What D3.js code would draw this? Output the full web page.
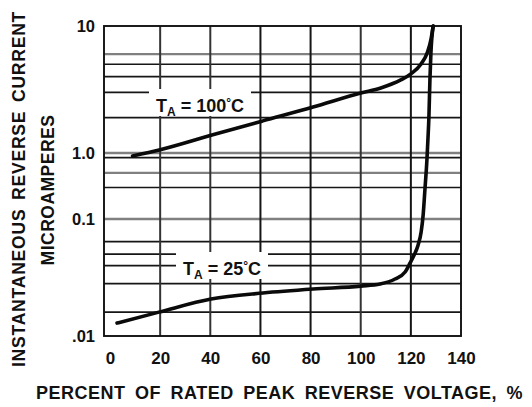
<!DOCTYPE html>
<html>
<head>
<meta charset="utf-8">
<script src="https://cdn.jsdelivr.net/npm/d3@7"></script>
<style>
  html, body { margin: 0; padding: 0; background: #fff; }
  svg { display: block; }
  text { font-family: "Liberation Sans", Arial, sans-serif; fill: #111; }
</style>
</head>
<body>
<svg id="chart" width="532" height="407"></svg>
<script>
// ---------- data ----------
const xTickValues = [0, 20, 40, 60, 80, 100, 120, 140];
const yTickValues = [0.01, 0.1, 1, 10];
const yTickLabels = [".01", "0.1", "1.0", "10"];
const xGridValues = [20, 40, 60, 80, 100, 120];
const yGridValues = [0.016, 0.028, 0.04, 0.05, 0.064, 0.1, 0.3, 0.5, 0.85, 1, 1.9, 3, 4, 5, 6];
const yGridGray = [6, 1, 0.5, 0.1];

const volt100 = [9, 20, 41, 61, 81, 100, 108, 116, 120, 124, 126.6, 128, 128.9];
const cur100  = [0.9, 1.06, 1.39, 1.79, 2.3, 2.97, 3.25, 3.76, 4.2, 5.0, 6.2, 7.8, 10];

const volt25 = [2.8, 19.5, 40.3, 61, 81, 100, 107.7, 113.7, 117.7, 119.7, 121.3, 122.9, 124.1, 124.9, 125.6, 126.4, 126.8, 127.2, 127.6, 128, 128.9];
const cur25  = [0.0129, 0.016, 0.0207, 0.0233, 0.0252, 0.0267, 0.0278, 0.0307, 0.0352, 0.0421, 0.0492, 0.060, 0.0774, 0.115, 0.275, 0.78, 1.27, 1.92, 3.76, 6.12, 10];

const xDomain = [-2.4, 140];
const yDomain = [0.01, 0.1, 1, 10];

const xTitle = "PERCENT OF RATED PEAK REVERSE VOLTAGE, %";
const yTitle1 = "INSTANTANEOUS REVERSE CURRENT";
const yTitle2 = "MICROAMPERES";

// ---------- scales ----------
const svg = d3.select("#chart");
const x = d3.scaleLinear().domain(xDomain).range([104, 461]);
const y = d3.scaleLog().domain(yDomain).range([336, 219, 153, 26]);

const x0 = x(xDomain[0]), x1 = x(xDomain[1]);
const yTop = y(yDomain[yDomain.length - 1]), yBot = y(yDomain[0]);

// ---------- grid ----------
const g = svg.append("g");
g.selectAll("line.hg").data(yGridValues).enter().append("line")
  .attr("x1", x0).attr("x2", x1)
  .attr("y1", d => y(d)).attr("y2", d => y(d))
  .attr("stroke", d => yGridGray.includes(d) ? "#808080" : "#161616")
  .attr("stroke-width", d => yGridGray.includes(d) ? 2.3 : 1.7);

g.selectAll("line.vg").data(xGridValues).enter().append("line")
  .attr("y1", yTop).attr("y2", yBot)
  .attr("x1", d => x(d)).attr("x2", d => x(d))
  .attr("stroke", d => d <= 40 || d === 100 ? "#333" : "#151515")
  .attr("stroke-width", 2);

// frame
g.append("rect").attr("x", x0).attr("y", yTop)
  .attr("width", x1 - x0).attr("height", yBot - yTop)
  .attr("fill", "none").attr("stroke", "#111").attr("stroke-width", 1.9);

// ---------- labels with white boxes ----------
function tempLabel(cx, cy, temp) {
  const lg = svg.append("g");
  const rect = lg.append("rect").attr("fill", "#fff");
  const t = lg.append("text").attr("x", cx).attr("y", cy + 6.5)
    .attr("text-anchor", "middle").attr("font-size", 18).attr("font-weight", "bold");
  t.append("tspan").text("T");
  t.append("tspan").text("A").attr("font-size", 12).attr("dy", 4);
  t.append("tspan").text(" = " + temp).attr("dy", -4);
  t.append("tspan").text("°").attr("font-size", 12).attr("dy", -5);
  t.append("tspan").text("C").attr("dy", 5);
  const bb = t.node().getBBox();
  rect.attr("x", bb.x - 7).attr("width", bb.width + 14)
      .attr("y", cy - 16).attr("height", 27);
}
tempLabel(200, 105, "100");
tempLabel(222, 268, "25");

// ---------- curves ----------
const line = d3.line().x(d => x(d[0])).y(d => y(d[1])).curve(d3.curveMonotoneX);
[[volt100, cur100], [volt25, cur25]].forEach(([vx, vy]) => {
  svg.append("path")
    .datum(vx.map((v, i) => [v, vy[i]]))
    .attr("d", line)
    .attr("fill", "none").attr("stroke", "#0a0a0a")
    .attr("stroke-width", 3.6).attr("stroke-linecap", "round").attr("stroke-linejoin", "round");
});

// ---------- axes ----------
const xAxis = svg.append("g").attr("transform", `translate(0,${yBot})`)
  .call(d3.axisBottom(x).tickValues(xTickValues).tickSize(0).tickPadding(16).tickFormat(d3.format("d")));
xAxis.select(".domain").remove();
xAxis.selectAll("text").attr("font-size", 17).attr("font-weight", "bold")
  .style("font-family", '"Liberation Sans", Arial, sans-serif').attr("fill", "#111");

const yAxis = svg.append("g").attr("transform", `translate(${x0},0)`)
  .call(d3.axisLeft(y).tickValues(yTickValues).tickSize(0).tickPadding(9)
    .tickFormat(d => yTickLabels[yTickValues.indexOf(d)]));
yAxis.select(".domain").remove();
yAxis.selectAll("text").attr("font-size", 16.5).attr("font-weight", "bold")
  .style("font-family", '"Liberation Sans", Arial, sans-serif').attr("fill", "#111");

// ---------- titles ----------
svg.append("text").attr("x", 36).attr("y", 399)
  .attr("font-size", 18).attr("font-weight", "bold")
  .style("letter-spacing", "0.5px").style("word-spacing", "4px")
  .text(xTitle);

svg.append("text").attr("transform", "translate(25,189) rotate(-90)")
  .attr("text-anchor", "middle").attr("font-size", 17.5).attr("font-weight", "bold")
  .style("letter-spacing", "0.8px").style("word-spacing", "3px")
  .text(yTitle1);

svg.append("text").attr("transform", "translate(54,190) rotate(-90)")
  .attr("text-anchor", "middle").attr("font-size", 17.5).attr("font-weight", "bold")
  .style("letter-spacing", "0.5px")
  .text(yTitle2);
</script>
</body>
</html>
